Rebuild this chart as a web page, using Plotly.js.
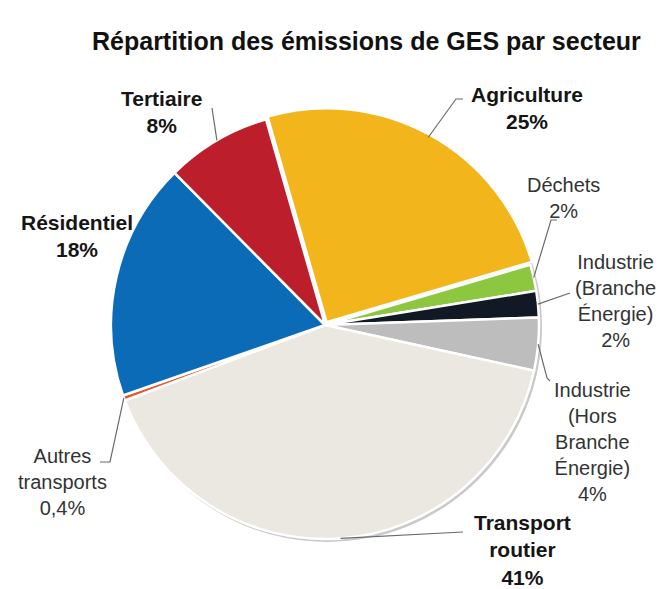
<!DOCTYPE html>
<html>
<head>
<meta charset="utf-8">
<script src="https://cdn.plot.ly/plotly-3.0.1.min.js"></script>
<style>html,body{margin:0;padding:0;background:#fff;}#chart{width:666px;height:589px;}</style>
</head>
<body>
<div id="chart"></div>
<script>
// ---- Data ----
const sectors = ["Agriculture", "Déchets", "Industrie (Branche Énergie)", "Industrie (Hors Branche Énergie)", "Transport routier", "Autres transports", "Résidentiel", "Tertiaire"];
const shares = [25, 2, 2, 4, 41, 0.4, 18, 8];
const labelLines = [["Agriculture"], ["Déchets"], ["Industrie", "(Branche", "Énergie)"], ["Industrie", "(Hors", "Branche", "Énergie)"], ["Transport", "routier"], ["Autres", "transports"], ["Résidentiel"], ["Tertiaire"]];
const boldLabel = [true, false, false, false, true, false, true, true];
const colors = ["#F2B51B", "#8DC63F", "#111A24", "#BDBDBD", "#EBE8E1", "#E4572E", "#0B6BB7", "#BC1E2B"];
const pulls = [0.015, 0, 0, 0, 0, 0, 0, 0];

// ---- Layout helpers (pixel geometry) ----
const W = 666, H = 589;
const cx = 325, cy = 325, R = 214, rotation = -16;
const px = x => x / W, py = y => 1 - y / H;
const maxPull = Math.max(...pulls);
const Rd = R * (1 + maxPull);

// label placement (block centres) and leader-line elbows, in pixels
const labelPos = [[527, 108], [563, 198], [615, 301], [592, 442], [522, 550], [62, 482], [77, 236], [161, 112]];
const leaderPts = [[[456, 99], [463, 99]], [[551, 220], [557, 220]], [[570, 293]], [[547, 378], [550, 381]], [[463, 532]], [[110, 462], [100, 462]], null, [[212, 108]]];

const total = shares.reduce((a, b) => a + b, 0);
const fmt = v => String(v).replace('.', ',') + '%';

const annotations = [{
  text: "<b>Répartition des émissions de GES par secteur</b>",
  x: px(366), y: py(41), xref: 'paper', yref: 'paper', xanchor: 'center', yanchor: 'middle',
  showarrow: false, font: {family: 'Liberation Sans, Arial', size: 25, color: '#111'}
}];
const shapes = [{
  type: 'circle', xref: 'paper', yref: 'paper', layer: 'below',
  x0: px(cx - R + 1), x1: px(cx + R + 3), y0: py(cy + R + 3), y1: py(cy - R + 1),
  fillcolor: '#C9C9C9', line: {width: 0}
}];
let cum = 0;
shares.forEach((v, i) => {
  const mid = (rotation + 360 * (cum + v / 2) / total) * Math.PI / 180;
  cum += v;
  const lines = labelLines[i].concat([fmt(v)]);
  let txt = lines.join('<br>');
  if (boldLabel[i]) txt = '<b>' + txt + '</b>';
  annotations.push({
    text: txt, x: px(labelPos[i][0]), y: py(labelPos[i][1]), xref: 'paper', yref: 'paper',
    xanchor: 'center', yanchor: 'middle', align: 'center', showarrow: false,
    font: {family: 'Liberation Sans, Arial', size: boldLabel[i] ? 21 : 20, color: boldLabel[i] ? '#151515' : '#333'}
  });
  if (leaderPts[i]) {
    const ex = cx + R * Math.sin(mid), ey = cy - R * Math.cos(mid);
    const pts = [[ex, ey]].concat(leaderPts[i]);
    const path = pts.map((p, k) => (k ? 'L' : 'M') + px(p[0]) + ',' + py(p[1])).join(' ');
    shapes.push({type: 'path', xref: 'paper', yref: 'paper', path: path, line: {color: '#6b6b6b', width: 1.2}});
  }
});

const trace = {
  type: 'pie', values: shares, labels: sectors, sort: false, direction: 'clockwise',
  rotation: rotation, textinfo: 'none', hoverinfo: 'label+percent', pull: pulls,
  marker: {colors: colors, line: {color: '#ffffff', width: 2.5}},
  domain: {x: [px(cx - Rd), px(cx + Rd)], y: [py(cy + Rd), py(cy - Rd)]},
  showlegend: false
};

Plotly.newPlot('chart', [trace], {
  width: W, height: H, margin: {l: 0, r: 0, t: 0, b: 0},
  paper_bgcolor: '#fff', showlegend: false,
  annotations: annotations, shapes: shapes
}, {displayModeBar: false, staticPlot: true});
</script>
</body>
</html>
